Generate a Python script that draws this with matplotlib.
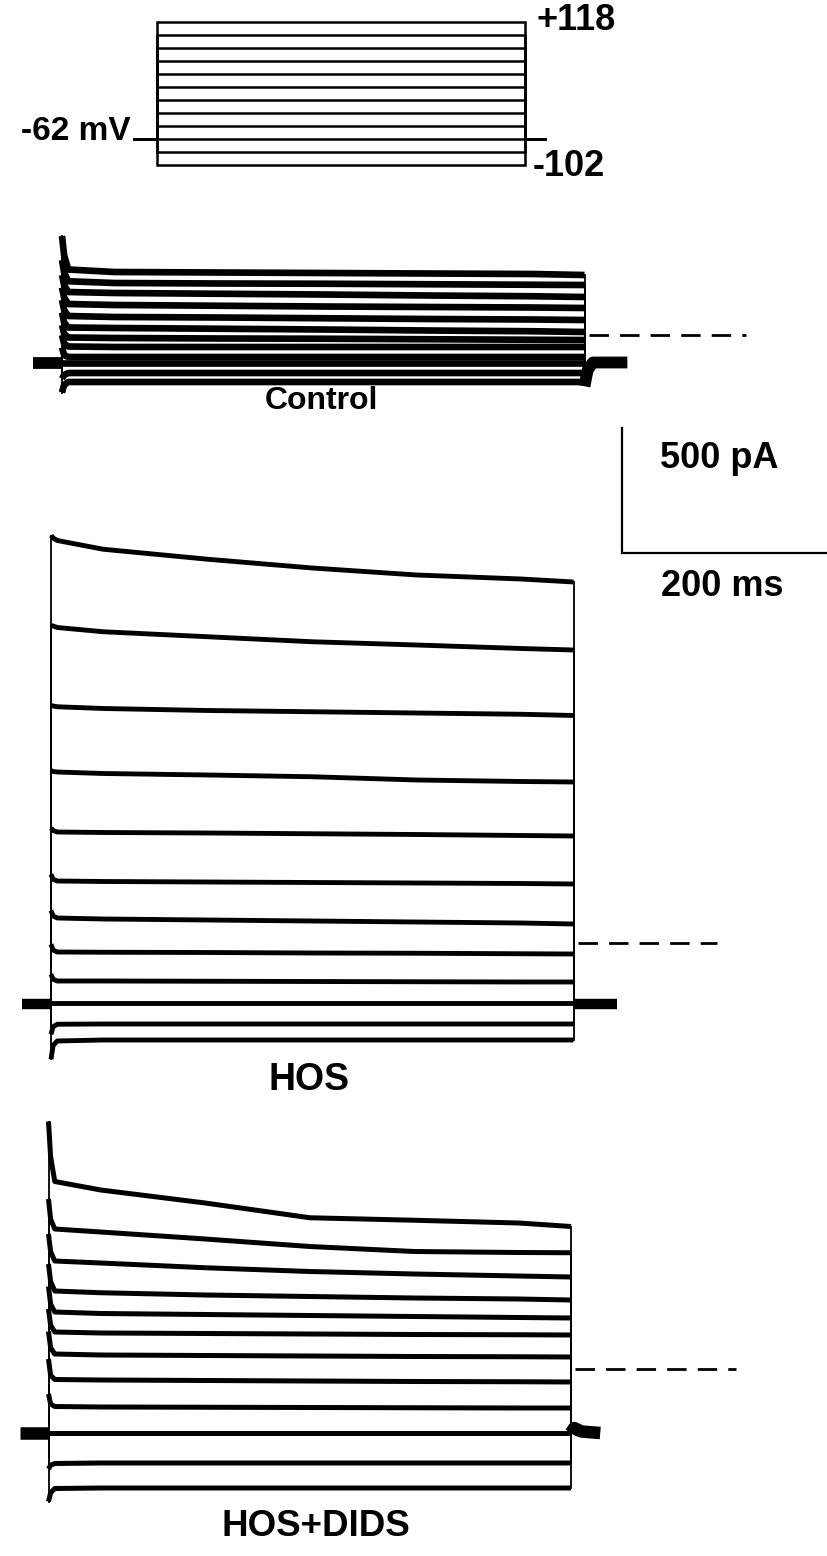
import numpy as np
import matplotlib
matplotlib.use("Agg")
import matplotlib.pyplot as plt

plt.rcParams['font.family'] = ['Liberation Sans', 'DejaVu Sans']

# ---------------- data ----------------
# voltage protocol (mV)
hold_mv = -62
step_mv = [118, 98, 78, 58, 38, 18, -2, -22, -42, -62, -82, -102]
proto_pre, proto_dur, proto_post = 31, 500, 27          # ms

# sample times inside the 500 ms step (ms)
t_step = [0, 2, 6, 50, 150, 250, 350, 450, 500]

# whole-cell currents (pA), one row per voltage step, top (+118 mV) to bottom (-102 mV)
control = [
    [396, 320, 262, 252, 250, 248, 246, 244, 240],
    [300, 250, 215, 208, 206, 205, 203, 201, 200],
    [240, 200, 172, 168, 165, 162, 158, 155, 152],
    [190, 150, 124, 120, 117, 114, 112, 110, 108],
    [140, 100, 76, 72, 70, 67, 64, 62, 60],
    [90, 50, 30, 28, 25, 22, 18, 15, 12],
    [40, 5, -10, -12, -14, -15, -17, -19, -20],
    [0, -35, -46, -48, -48, -48, -48, -48, -48],
    [-50, -80, -88, -88, -88, -88, -88, -88, -88],
    [-110, -110, -110, -110, -110, -110, -110, -110, -110],
    [-175, -160, -152, -152, -152, -152, -152, -152, -152],
    [-230, -200, -188, -188, -188, -188, -188, -188, -188],
]
control_hold = -110
control_post_t = [0, 3, 8, 41]
control_post_i = [-205, -140, -110, -110]

hos = [
    [1630, 1620, 1610, 1575, 1535, 1500, 1472, 1456, 1444],
    [1270, 1268, 1262, 1245, 1225, 1205, 1192, 1178, 1172],
    [950, 948, 945, 938, 930, 925, 920, 915, 910],
    [690, 686, 684, 678, 672, 665, 652, 646, 644],
    [460, 450, 444, 442, 440, 437, 434, 430, 428],
    [275, 255, 248, 246, 244, 242, 240, 238, 236],
    [130, 108, 100, 96, 92, 88, 84, 80, 76],
    [-5, -28, -36, -37, -38, -40, -41, -43, -44],
    [-125, -145, -152, -152, -153, -154, -155, -156, -156],
    [-240, -240, -240, -240, -240, -240, -240, -240, -240],
    [-365, -335, -325, -324, -324, -324, -324, -324, -324],
    [-465, -410, -392, -388, -388, -388, -388, -388, -388],
]
hos_hold = -242
hos_post_t = [0, 42]
hos_post_i = [-242, -242]

hos_dids = [
    [990, 850, 750, 716, 664, 605, 595, 584, 570],
    [680, 600, 560, 548, 520, 490, 470, 466, 465],
    [540, 470, 432, 424, 405, 390, 380, 372, 368],
    [420, 350, 312, 305, 296, 290, 284, 280, 276],
    [330, 260, 228, 222, 218, 214, 210, 206, 204],
    [240, 175, 148, 144, 142, 140, 138, 137, 136],
    [150, 85, 60, 56, 54, 52, 50, 49, 48],
    [40, -25, -42, -44, -46, -48, -50, -51, -52],
    [-100, -140, -150, -152, -153, -154, -155, -156, -156],
    [-256, -256, -256, -256, -256, -256, -256, -256, -256],
    [-400, -385, -378, -376, -376, -376, -376, -376, -376],
    [-530, -495, -478, -476, -476, -476, -476, -476, -476],
]
dids_hold = -256
dids_post_t = [0, 3, 10, 28]
dids_post_i = [-256, -236, -250, -256]

scale_pA, scale_ms = 500, 200

# ---------------- layout ----------------
W, H = 827, 1556
fig = plt.figure(figsize=(W / 100, H / 100), dpi=100)
fig.patch.set_facecolor('white')

KX, KY = 1.045, 0.25      # px per ms, px per pA for current records


def data_axes(x0, y0, kx, ky, xlim, ylim):
    """Axes whose data origin (0, 0) sits at pixel (x0, y0)."""
    left = x0 + xlim[0] * kx
    top = y0 - ylim[1] * ky
    w = (xlim[1] - xlim[0]) * kx
    h = (ylim[1] - ylim[0]) * ky
    ax = fig.add_axes([left / W, 1 - (top + h) / H, w / W, h / H])
    ax.set_xlim(*xlim)
    ax.set_ylim(*ylim)
    ax.axis('off')
    ax.patch.set_alpha(0)
    return ax


def ftext(x, y, s, size, ha='center', va='center'):
    fig.text(x / W, 1 - y / H, s, fontsize=size, fontweight='bold',
             ha=ha, va=va, color='black')


# ---------------- voltage protocol ----------------
axp = data_axes(157, 139 - 62 * 0.65, 368 / 500, 0.65, (-60, 600), (-130, 140))
for v in step_mv:
    axp.plot([-proto_pre, 0, 0, proto_dur, proto_dur, proto_dur + proto_post],
             [hold_mv, hold_mv, v, v, hold_mv, hold_mv],
             color='black', lw=1.8, solid_joinstyle='miter', clip_on=False)
ftext(131, 131, '-62 mV', 24, ha='right')
ftext(537, 20, '+118', 26, ha='left')
ftext(533, 167, '-102', 26, ha='left')


# ---------------- current records ----------------
def draw_panel(x0, y0, traces, hold, pre, post_t, post_i, lw, hold_lw, dash_end):
    ax = data_axes(x0, y0, KX, KY, (-60, 720), (-800, 2000))
    t = np.array(t_step, dtype=float)
    t_end = t[-1]
    for tr in traces:
        ax.plot(t, tr, color='black', lw=lw, solid_capstyle='butt',
                solid_joinstyle='round', clip_on=False)
        ax.plot([0, 0], [hold, tr[0]], color='black', lw=1.3, clip_on=False)
        ax.plot([t_end, t_end], [tr[-1], hold], color='black', lw=1.3, clip_on=False)
    ax.plot([-pre, 0], [hold, hold], color='black', lw=hold_lw,
            solid_capstyle='butt', clip_on=False)
    ax.plot(t_end + np.array(post_t), post_i, color='black', lw=hold_lw,
            solid_capstyle='butt', solid_joinstyle='round', clip_on=False)
    ax.plot([t_end + 4, dash_end], [0, 0], color='black', lw=2.0,
            dashes=(7, 4), clip_on=False)
    return ax


draw_panel(62, 335, control, control_hold, 28, control_post_t, control_post_i,
           4.8, 8.5, 655)
ftext(321, 401, 'Control', 23)

draw_panel(51, 943, hos, hos_hold, 28, hos_post_t, hos_post_i,
           3.5, 7.5, 637)
ftext(309, 1080, 'HOS', 27)

draw_panel(48.5, 1369, hos_dids, dids_hold, 27, dids_post_t, dids_post_i,
           3.6, 9.0, 658)
ftext(316, 1526, 'HOS+DIDS', 26.5)

# ---------------- scale bars ----------------
axs = data_axes(622, 553, KX, KY, (-20, 260), (-50, 560))
axs.plot([0, 0, scale_ms], [scale_pA, 0, 0], color='black', lw=1.6,
         solid_joinstyle='miter', clip_on=False)
ftext(719, 458, f'{scale_pA} pA', 26)
ftext(722, 587, f'{scale_ms} ms', 26)

fig.savefig('out.png', dpi=100, facecolor='white')
